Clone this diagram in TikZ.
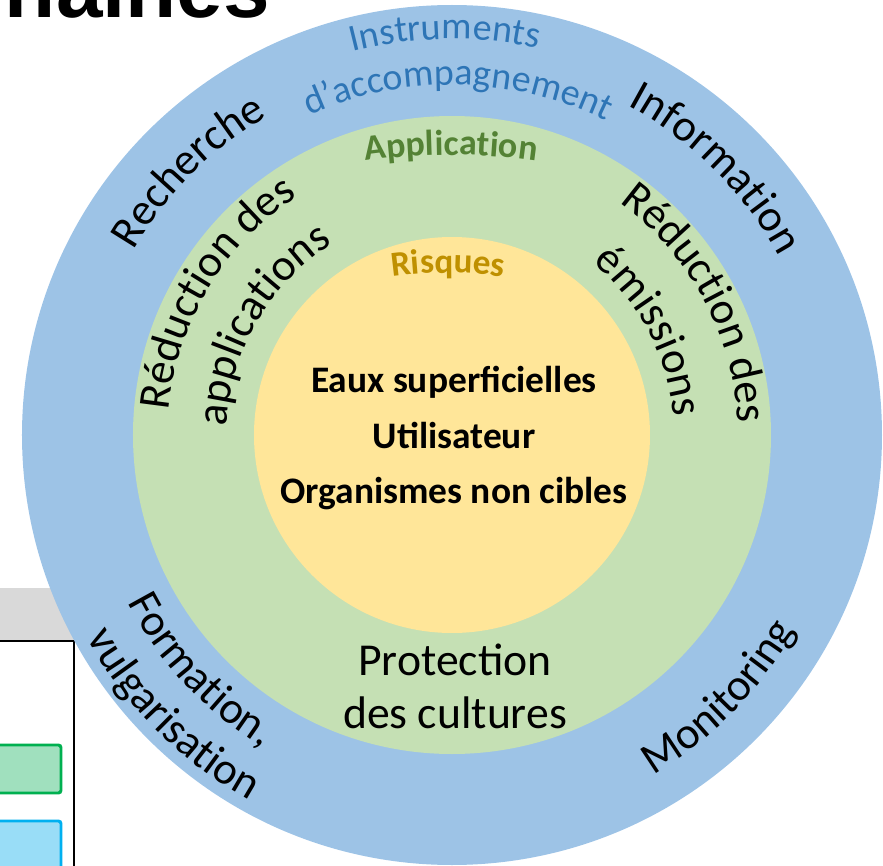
\documentclass[tikz,border=0pt]{standalone}
\usepackage{fontspec}
\setmainfont{Carlito}
\newfontfamily\headfont{Liberation Sans}
\usepackage{tikz}
\usetikzlibrary{decorations.text}
\definecolor{rgRingBlue}{HTML}{9DC3E6}
\definecolor{rgRingGreen}{HTML}{C5E0B4}
\definecolor{rgRingYellow}{HTML}{FFE699}
\definecolor{rgInstBlue}{HTML}{2E75B6}
\definecolor{rgAppGreen}{HTML}{548235}
\definecolor{rgRiskGold}{HTML}{BF9000}
\definecolor{rgBar}{HTML}{D9D9D9}
\definecolor{rgKeyGreen}{HTML}{00B050}
\definecolor{rgKeyGreenFill}{HTML}{A0E0BE}
\definecolor{rgKeyBlue}{HTML}{00B0F0}
\definecolor{rgKeyBlueFill}{HTML}{99DDF7}
\newcommand{\rgOuter}{\fontsize{25.5}{30}\selectfont}
\newcommand{\rgInst}{\fontsize{21.6}{26}\selectfont}
\newcommand{\rgApp}{\fontsize{20.5}{24}\selectfont\bfseries}
\newcommand{\rgRisk}{\fontsize{20}{24}\selectfont\bfseries}
\tikzset{
  % text bent along a ring
  arclbl/.style={decorate,decoration={text along path,
    text align=center,text={#1}}},
  % straight text in the core and green ring
  corelbl/.style={inner sep=0pt,anchor=base,
    font=\fontsize{21.3}{25}\selectfont\bfseries},
  protlbl/.style={inner sep=0pt,anchor=base,
    font=\fontsize{26}{30}\selectfont},
  headlbl/.style={inner sep=0pt,anchor=base west,
    font=\headfont\fontsize{47.6}{50}\selectfont\bfseries},
  % legend swatches
  keyswatch/.style={rounded corners=1.5pt,line width=1.7pt},
}
\begin{document}
\begin{tikzpicture}[x=0.02cm,y=0.02cm]
  \useasboundingbox (-452,-431) rectangle (431,435);
  \clip (-452,-431) rectangle (431,435);

  % legend panel, cut by the frame
  \fill[rgBar] (-470,-153) rectangle (-250,-206);
  \draw[fill=white,line width=1.1pt] (-470,-206) rectangle (-378,-480);
  \draw[keyswatch,draw=rgKeyGreen,fill=rgKeyGreenFill]
    (-470,-310) rectangle (-391,-358);
  \draw[keyswatch,draw=rgKeyBlue,fill=rgKeyBlueFill]
    (-470,-386) rectangle (-391,-480);

  \node[headlbl] (head) at (-447.4,417) {naines};

  % the three rings
  \fill[rgRingBlue] (0,0) circle[radius=430];
  \fill[rgRingGreen] (0,0) circle[radius=319];
  \fill[rgRingYellow] (0,0) circle[radius=198];

  % outer ring
  \path[arclbl={|\color{rgInstBlue}\rgInst|Instruments}]
    (131:396) arc[start angle=131,end angle=51,radius=396];
  \path[arclbl={|\color{rgInstBlue}\rgInst|d'accompagnement}]
    (134:350) arc[start angle=134,end angle=44,radius=350];
  \path[arclbl={|\rgOuter|Recherche}]
    (170:368) arc[start angle=170,end angle=100,radius=368];
  \path[arclbl={|\rgOuter|Information}]
    (80.3:373) arc[start angle=80.3,end angle=10.3,radius=373];
  \path[arclbl={|\rgOuter|Formation,}]
    (188:365) arc[start angle=188,end angle=258,radius=365];
  \path[arclbl={|\rgOuter|vulgarisation}]
    (185:418) arc[start angle=185,end angle=265,radius=418];
  \path[arclbl={|\rgOuter|Monitoring}]
    (280.5:395) arc[start angle=280.5,end angle=350.5,radius=395];

  % green ring
  \path[arclbl={|\color{rgAppGreen}\rgApp|Application}]
    [shift={(-1,-320)}] (105:600) arc[start angle=105,end angle=75,radius=600];
  \path[arclbl={|\rgOuter|Réduction des}]
    (189:284) arc[start angle=189,end angle=109,radius=284];
  \path[arclbl={|\rgOuter|applications}]
    (190:225) arc[start angle=190,end angle=110,radius=225];
  \path[arclbl={|\rgOuter|Réduction des}]
    (68.4:286) arc[start angle=68.4,end angle=-11.6,radius=286];
  \path[arclbl={|\rgOuter|émissions}]
    (67.7:222) arc[start angle=67.7,end angle=-12.3,radius=222];
  \node[protlbl] (protect) at (3,-240) {Protection};
  \node[protlbl] (cultures) at (3,-293) {des cultures};

  % core
  \path[arclbl={|\color{rgRiskGold}\rgRisk|Risques}]
    [shift={(-4,-238)}] (110:400) arc[start angle=110,end angle=70,radius=400];
  \node[corelbl] (eaux) at (2,43) {Eaux superficielles};
  \node[corelbl] (user) at (2,-13) {Utilisateur};
  \node[corelbl] (organ) at (2,-68) {Organismes non cibles};
\end{tikzpicture}
\end{document}
